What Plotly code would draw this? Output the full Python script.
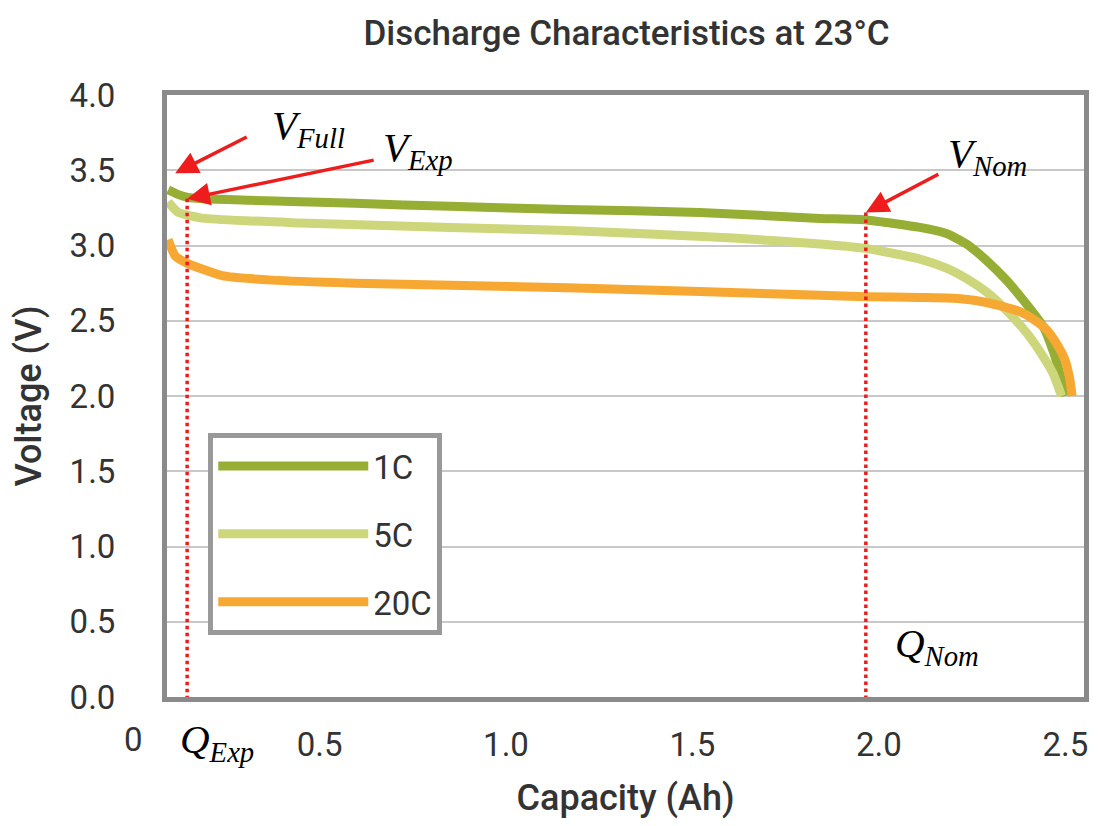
import plotly.graph_objects as go

# ---- data ----
series_names = ["1C", "5C", "20C"]

cap_1c = [0.094, 0.120, 0.147, 0.193, 0.314, 0.448, 0.595, 0.850, 1.164, 1.520, 1.842, 1.967, 2.110, 2.181, 2.235, 2.289, 2.342, 2.396, 2.441, 2.467, 2.485, 2.499]
volt_1c = [3.37, 3.34, 3.32, 3.31, 3.30, 3.29, 3.28, 3.26, 3.24, 3.22, 3.18, 3.17, 3.12, 3.08, 3.01, 2.90, 2.77, 2.61, 2.46, 2.30, 2.15, 2.00]

cap_5c = [0.094, 0.121, 0.193, 0.448, 0.850, 1.164, 1.609, 1.842, 1.967, 2.110, 2.181, 2.235, 2.289, 2.342, 2.396, 2.441, 2.467, 2.490]
volt_5c = [3.29, 3.22, 3.18, 3.15, 3.12, 3.10, 3.05, 3.01, 2.98, 2.91, 2.85, 2.78, 2.69, 2.57, 2.42, 2.26, 2.15, 2.00]

cap_20c = [0.094, 0.113, 0.147, 0.239, 0.373, 0.595, 1.164, 1.842, 1.967, 2.110, 2.199, 2.271, 2.324, 2.378, 2.414, 2.450, 2.476, 2.499, 2.512, 2.518]
volt_20c = [3.04, 2.93, 2.88, 2.80, 2.77, 2.75, 2.72, 2.67, 2.66, 2.655, 2.65, 2.63, 2.60, 2.56, 2.51, 2.44, 2.35, 2.24, 2.11, 2.00]

# characteristic points
q_full, v_full = 0.113, 3.48
q_exp, v_exp = 0.145, 3.31
q_nom, v_nom = 1.965, 3.22

x_ticks = [0.5, 1.0, 1.5, 2.0, 2.5]
y_ticks = [0.0, 0.5, 1.0, 1.5, 2.0, 2.5, 3.0, 3.5, 4.0]
x_origin_label = 0  # the "0" tick that sits left of the frame

x_range = [0.091, 2.55]
y_range = [0, 4.0]

colors = ["#97AE34", "#CED67C", "#F6A833"]

LABEL_FONT = "Roboto"
MATH_FONT = "Liberation Serif"
TXT = "#333333"
RED = "#EE1C1C"

fig = go.Figure()
for name, xs, ys, col in zip(series_names, [cap_1c, cap_5c, cap_20c], [volt_1c, volt_5c, volt_20c], colors):
    fig.add_trace(go.Scatter(x=xs, y=ys, mode="lines", name=name, legendgroup=name,
                             line=dict(color=col, width=9, shape="spline", smoothing=0.5)))

# dotted marker lines for Q_Exp and Q_Nom
fig.add_trace(go.Scatter(x=[q_exp, q_exp], y=[v_exp, 0], mode="lines", showlegend=False,
                         line=dict(color=RED, width=3.5, dash="dot")))
fig.add_trace(go.Scatter(x=[q_nom, q_nom], y=[v_nom, 0], mode="lines", showlegend=False,
                         line=dict(color=RED, width=3.5, dash="dot")))

# arrows
for (qx, vy, ax, ay) in [(q_full, v_full, 73, -37), (q_exp, v_exp, 188, -39), (q_nom, v_nom, 74, -39)]:
    fig.add_annotation(x=qx, y=vy, xref="x", yref="y", ax=ax, ay=ay, text="",
                       showarrow=True, arrowhead=2, arrowsize=1.3, arrowwidth=3.5, arrowcolor=RED)

mfont = dict(family=MATH_FONT, size=41, color="#000000")
# V labels
fig.add_annotation(x=q_full, y=v_full, xref="x", yref="y", text="<i>V<sub>Full</sub></i>",
                   showarrow=False, xanchor="left", yanchor="middle", xshift=95, yshift=45, font=mfont)
fig.add_annotation(x=q_exp, y=v_exp, xref="x", yref="y", text="<i>V<sub>Exp</sub></i>",
                   showarrow=False, xanchor="left", yanchor="middle", xshift=194, yshift=49, font=mfont)
fig.add_annotation(x=q_nom, y=v_nom, xref="x", yref="y", text="<i>V<sub>Nom</sub></i>",
                   showarrow=False, xanchor="left", yanchor="middle", xshift=80, yshift=56, font=mfont)
# Q labels
fig.add_annotation(x=q_exp, y=0, xref="x", yref="y", text="<i>Q<sub>Exp</sub></i>",
                   showarrow=False, xanchor="left", yanchor="middle", xshift=-9, yshift=-45, font=mfont)
fig.add_annotation(x=q_nom, y=0, xref="x", yref="y", text="<i>Q<sub>Nom</sub></i>",
                   showarrow=False, xanchor="left", yanchor="middle", xshift=27, yshift=51, font=mfont)

tick_font = dict(family=LABEL_FONT, size=33, color=TXT)
title_font = dict(family=LABEL_FONT, size=36, color=TXT, weight=500)

# the "0" tick label lies outside the plotted range, so place it in paper space
zero_paper_x = (x_origin_label - x_range[0]) / (x_range[1] - x_range[0])
fig.add_annotation(x=zero_paper_x, y=0, xref="paper", yref="paper", text="0", showarrow=False,
                   xanchor="center", yanchor="middle", yshift=-42, font=tick_font)

# page has an 8px body margin; figure is sized to fill the rest of the window
fig.update_layout(
    template="none",
    width=1091, height=818,
    margin=dict(l=159, r=15, t=87, b=129),
    paper_bgcolor="white", plot_bgcolor="white",
    title=dict(text="Discharge Characteristics at 23°C", x=0.567, xanchor="center",
               y=0.985, yanchor="top", yref="container",
               font=dict(family=LABEL_FONT, size=35, color=TXT, weight=500)),
    legend=dict(x=0.045, y=0.4385, xanchor="left", yanchor="top",
                bordercolor="#999999", borderwidth=5, bgcolor="white",
                font=dict(family=LABEL_FONT, size=33, color=TXT),
                traceorder="grouped", tracegroupgap=22, itemwidth=150),
    showlegend=True,
)
fig.update_xaxes(range=x_range, tickvals=x_ticks, tickformat=".1f", automargin=False,
                 showgrid=False, zeroline=False, showline=True, linecolor="#8A8A8A", linewidth=5, mirror=True,
                 ticks="", ticklabelstandoff=14, tickfont=tick_font,
                 title=dict(text="Capacity (Ah)", standoff=24, font=title_font))
fig.update_yaxes(range=y_range, tickvals=y_ticks, tickformat=".1f", automargin=False,
                 showgrid=True, gridcolor="#C8C8C8", gridwidth=2, zeroline=False,
                 showline=True, linecolor="#8A8A8A", linewidth=5, mirror=True,
                 ticks="", ticklabelstandoff=40, tickfont=tick_font,
                 title=dict(text="Voltage (V)", standoff=26, font=title_font))

fig.write_html("out.html")
